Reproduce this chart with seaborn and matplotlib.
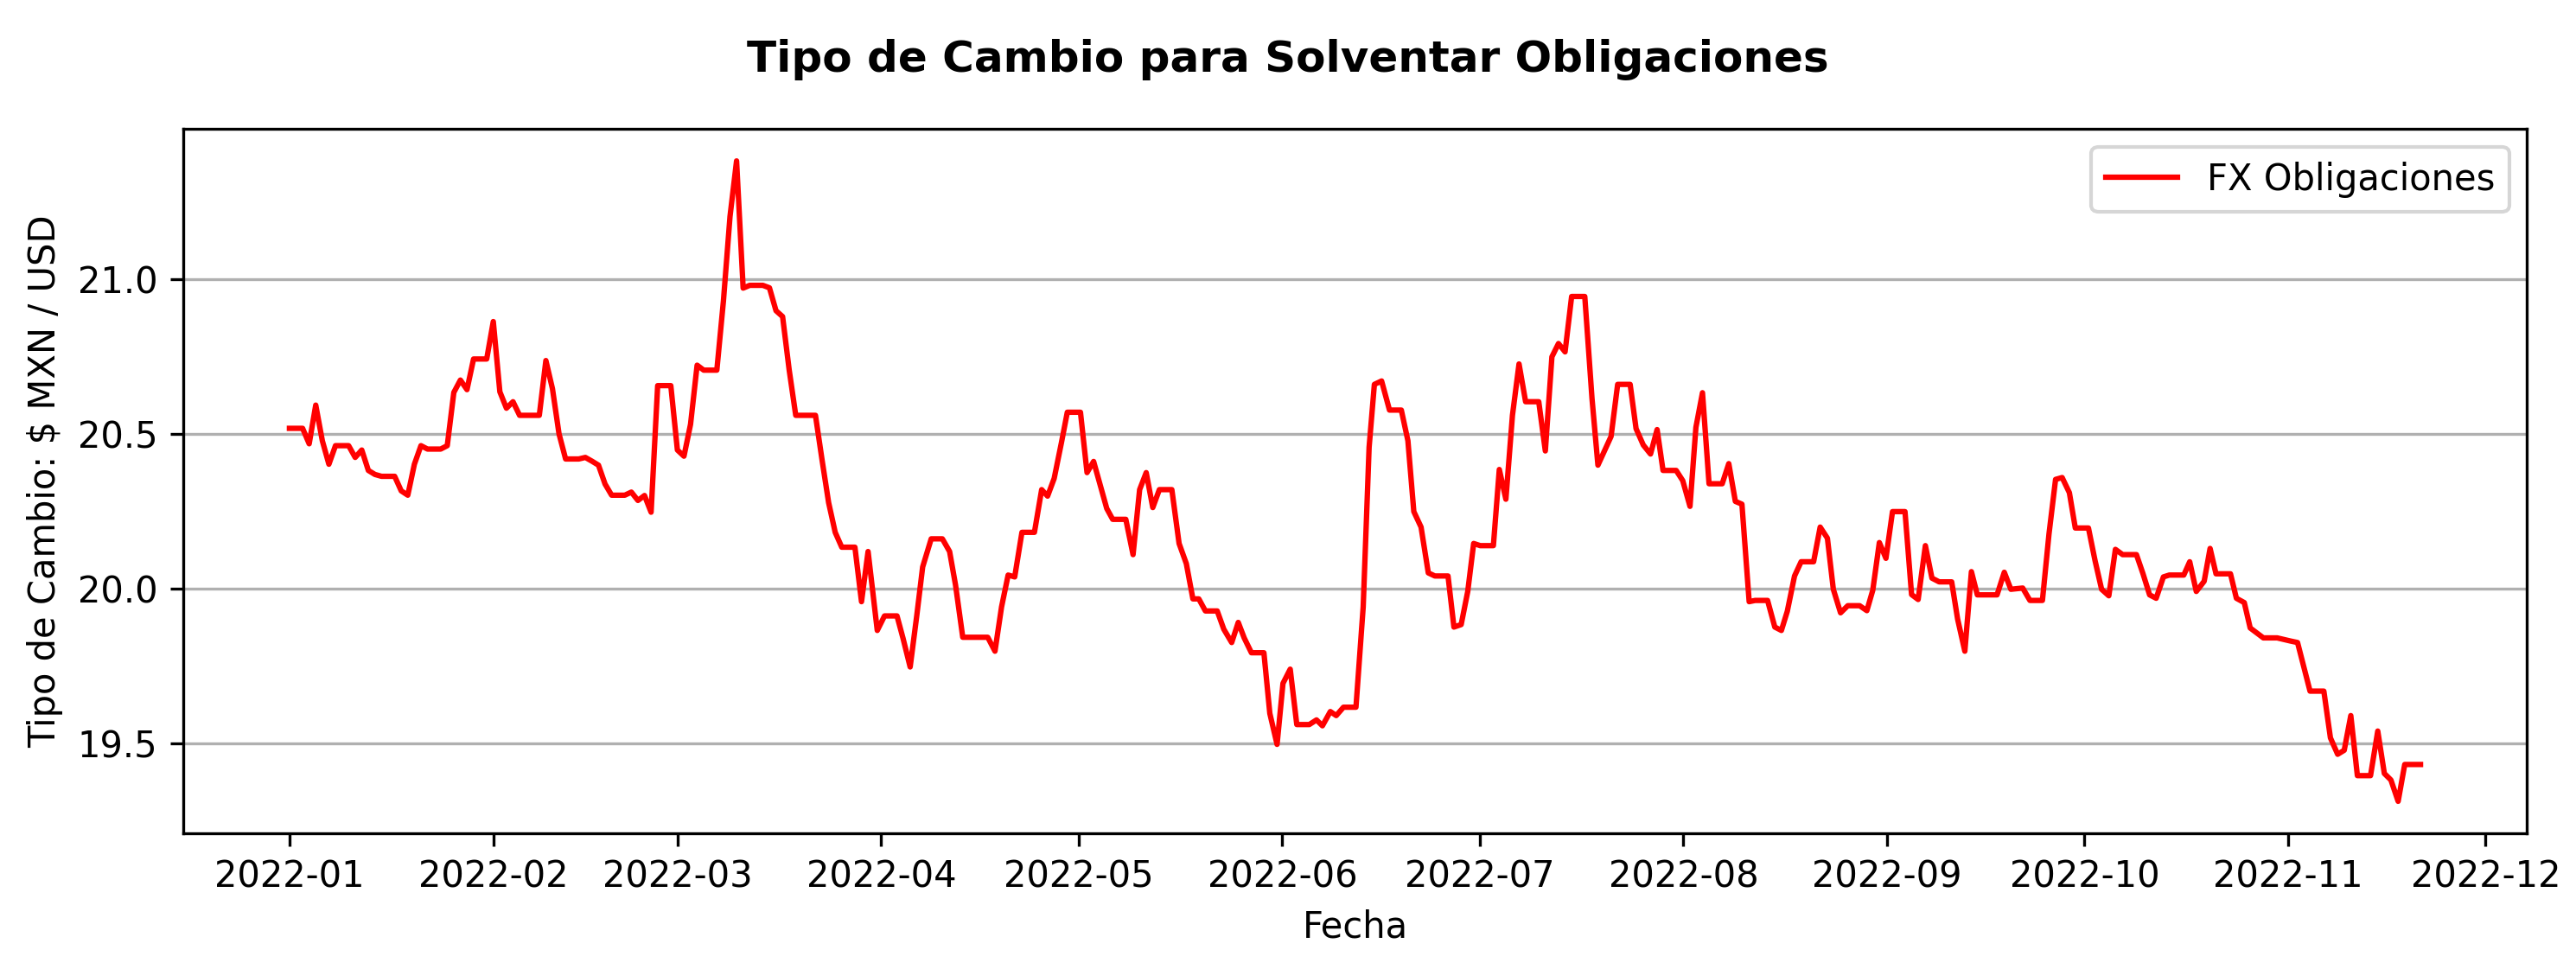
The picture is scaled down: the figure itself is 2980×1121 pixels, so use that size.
import pandas as pd
import seaborn as sns
import matplotlib
matplotlib.use("Agg")
import matplotlib.pyplot as plt

# days since 2022-01-01 and FX values
days = [0, 2, 3, 4, 5, 6, 7, 9, 10, 11, 12, 13, 14, 16, 17, 18, 19, 20, 21, 23,
        24, 25, 26, 27, 28, 30, 31, 32, 33, 34, 35, 38, 39, 40, 41, 42, 44, 45, 46, 47,
        48, 49, 51, 52, 53, 54, 55, 56, 58, 59, 60, 61, 62, 63, 65, 66, 67, 68, 69, 70,
        72, 73, 74, 75, 76, 77, 80, 81, 82, 83, 84, 86, 87, 88,
        89.4, 90.5, 92.4, 93.3, 94.4, 95.4, 96.3, 97.6, 99.3, 100.4, 101.3, 102.4, 106.2, 107.3,
        108.3, 109.3, 110.3, 111.4, 113.3, 114.4, 115.3, 116.3, 117.4, 118.3, 120.3, 121.3,
        122.3, 123.4, 124.3, 125.2, 127.2, 128.3, 129.3, 130.3, 131.3, 132.3, 134.2, 135.3,
        136.4, 137.4, 138.3, 139.3, 141.1, 142.1, 143.3, 144.3, 145.2, 146.3, 148.2, 149.1,
        150.2, 151.1, 152.2, 153.2, 155.1, 156.2, 157.1, 158.3, 159.2, 160.3, 162.2, 163.3,
        164.2, 165.0, 166.1, 167.3, 169.1, 170.1, 171.0, 172.1, 173.2, 174.2, 176.2, 177.1,
        178.2, 179.2, 180.1, 181.1, 183.1, 184.0, 185.0, 186.0, 187.0, 188.0, 190.0, 191.0,
        192.0, 193.0, 194.0, 195.0, 197.0, 198.1, 199.0, 201.0, 202.0, 203.9, 204.8, 205.9,
        207.0, 208.0, 208.9, 210.9, 211.9, 213.0, 213.9, 214.9, 215.9, 217.9, 218.9, 219.9,
        220.9, 222.0, 222.9, 224.8, 225.9, 226.9, 227.8, 228.9, 229.9, 231.8, 232.8, 233.9,
        234.8, 235.9, 237.0, 238.8, 239.9, 240.8, 241.8, 242.8, 243.8, 245.7, 246.7, 247.7,
        248.8, 249.8, 250.9, 252.8, 253.7, 254.8, 255.8, 256.7, 259.7, 260.8, 261.8, 263.6,
        264.7, 266.6, 267.6, 268.6, 269.6, 270.7, 271.6, 273.6, 274.6, 275.6, 276.7, 277.7,
        278.8, 280.9, 281.9, 282.9, 283.9, 285.0, 285.9, 288.1, 289.0, 290.0, 291.2, 292.1,
        293.0, 295.2, 296.1, 297.3, 298.2, 300.2, 302.3, 304.3, 305.4, 306.4, 307.3, 309.4,
        310.4, 311.5, 312.5, 313.5, 314.5, 316.5, 317.6, 318.6, 319.6, 320.7, 321.7, 324.1]

fx = [20.517, 20.517, 20.467, 20.592, 20.477, 20.401, 20.461, 20.461, 20.423, 20.447,
      20.381, 20.368, 20.362, 20.362, 20.315, 20.301, 20.401, 20.461, 20.450, 20.450,
      20.461, 20.633, 20.673, 20.642, 20.741, 20.741, 20.862, 20.635, 20.582, 20.603,
      20.559, 20.559, 20.736, 20.645, 20.499, 20.418, 20.418, 20.423, 20.411, 20.398,
      20.337, 20.301, 20.301, 20.311, 20.284, 20.300, 20.246, 20.655, 20.655, 20.447,
      20.427, 20.530, 20.721, 20.705, 20.705, 20.928, 21.201, 21.381, 20.970, 20.979,
      20.979, 20.971, 20.897, 20.878, 20.706, 20.559, 20.559, 20.415, 20.277, 20.181,
      20.133, 20.133, 19.957, 20.119,
      19.864, 19.911, 19.911, 19.840, 19.746, 19.911, 20.069, 20.160, 20.160, 20.119,
      20.011, 19.842, 19.842, 19.797, 19.940, 20.043, 20.037, 20.181, 20.181, 20.319,
      20.298, 20.355, 20.470, 20.569, 20.569, 20.374, 20.410, 20.327, 20.258, 20.223,
      20.223, 20.109, 20.319, 20.374, 20.261, 20.319, 20.319, 20.145, 20.080, 19.966,
      19.966, 19.927, 19.927, 19.868, 19.825, 19.890, 19.840, 19.792, 19.792, 19.596,
      19.496, 19.693, 19.739, 19.560, 19.560, 19.575, 19.556, 19.602, 19.589, 19.616,
      19.616, 19.940, 20.456, 20.659, 20.670, 20.576, 20.576, 20.477, 20.248, 20.198,
      20.050, 20.040, 20.040, 19.875, 19.883, 19.990, 20.145, 20.138, 20.138, 20.384,
      20.288, 20.559, 20.725, 20.603, 20.603, 20.444, 20.748, 20.791, 20.764, 20.943,
      20.943, 20.613, 20.398, 20.491, 20.659, 20.659, 20.516, 20.463, 20.434, 20.513,
      20.381, 20.381, 20.348, 20.265, 20.520, 20.632, 20.338, 20.338, 20.403, 20.281,
      20.272, 19.957, 19.961, 19.961, 19.875, 19.864, 19.926, 20.040, 20.086, 20.086,
      20.198, 20.162, 19.997, 19.921, 19.944, 19.944, 19.928, 19.994, 20.148, 20.097,
      20.248, 20.248, 19.980, 19.964, 20.138, 20.033, 20.021, 20.021, 19.901, 19.797,
      20.054, 19.979, 19.979, 20.052, 19.997, 20.001, 19.961, 19.961, 20.176, 20.352,
      20.358, 20.309, 20.195, 20.195, 20.090, 19.997, 19.976, 20.126, 20.109, 20.109,
      20.047, 19.979, 19.968, 20.037, 20.043, 20.043, 20.086, 19.990, 20.023, 20.129,
      20.047, 20.047, 19.968, 19.954, 19.872, 19.840, 19.840, 19.830, 19.825, 19.742,
      19.668, 19.668, 19.517, 19.464, 19.477, 19.589, 19.395, 19.395, 19.539, 19.402,
      19.381, 19.312, 19.431, 19.431]

df = pd.DataFrame({
    "Fecha": pd.Timestamp("2022-01-01") + pd.to_timedelta(days, unit="D"),
    "FX": fx,
})

fig, ax = plt.subplots(figsize=(2980 / 300, 1121 / 300), dpi=300)
sns.lineplot(data=df, x="Fecha", y="FX", color="red", linewidth=1.5,
             label="FX Obligaciones", ax=ax)

ax.grid(axis="y", color="#b0b0b0", linewidth=0.8)
ax.set_xlabel("Fecha")
ax.set_ylabel("Tipo de Cambio: $ MXN / USD")
ax.set_yticks([19.5, 20.0, 20.5, 21.0])
ax.legend(loc="upper right")
fig.suptitle("Tipo de Cambio para Solventar Obligaciones", fontweight="bold", fontsize=12, y=0.96)
plt.subplots_adjust(left=0.071, right=0.981, top=0.867, bottom=0.14)
fig.savefig("out.png", dpi=300)
